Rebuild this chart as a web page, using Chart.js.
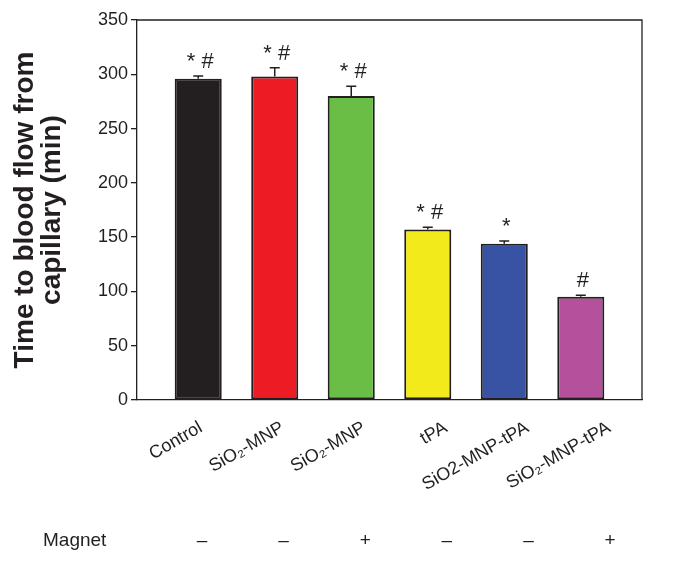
<!DOCTYPE html>
<html>
<head>
<meta charset="utf-8">
<script src="https://cdn.jsdelivr.net/npm/chart.js@4.4.1/dist/chart.umd.min.js"></script>
<style>
  html, body { margin: 0; padding: 0; background: #fff; }
  #wrap { width: 682px; height: 563px; position: relative; }
</style>
</head>
<body>
<div id="wrap"><canvas id="bloodFlowChart"></canvas></div>
<script>
const groups = ['Control', 'SiO₂-MNP', 'SiO₂-MNP', 'tPA', 'SiO2-MNP-tPA', 'SiO₂-MNP-tPA'];
const meanTime = [296, 298, 280, 157, 144, 95];
const errTime = [2.5, 8, 9, 2, 2.5, 1.5];
const sigMarks = ['* #', '* #', '* #', '* #', '*', '#'];
const magnet = ['–', '–', '+', '–', '–', '+'];
const barColors = ['#231f20', '#ed1c24', '#6abd45', '#f3ea1c', '#3853a4', '#b5509d'];
const yTicks = [0, 50, 100, 150, 200, 250, 300, 350];

const ink = '#231f20';
const fontFamily = '"Liberation Sans", Arial, Helvetica, sans-serif';

// group labels in the figure are spaced a little wider than the bars
const labelStart = 0.036;
const labelStep = 1.0667;
const labelPos = i => labelStart + i * labelStep;

// error bars (upper only) + significance marks
const errorBars = {
    id: 'errorBars',
    afterDatasetsDraw(chart) {
        const ctx = chart.ctx;
        const y = chart.scales.y;
        const meta = chart.getDatasetMeta(0);
        ctx.save();
        ctx.strokeStyle = ink;
        ctx.fillStyle = ink;
        ctx.lineWidth = 1.5;
        meta.data.forEach((bar, i) => {
            const top = y.getPixelForValue(meanTime[i]);
            const cap = y.getPixelForValue(meanTime[i] + errTime[i]);
            ctx.beginPath();
            ctx.moveTo(bar.x, top);
            ctx.lineTo(bar.x, cap);
            ctx.moveTo(bar.x - 5, cap);
            ctx.lineTo(bar.x + 5, cap);
            ctx.stroke();

            ctx.font = '22px ' + fontFamily;
            ctx.textAlign = 'center';
            ctx.textBaseline = 'alphabetic';
            ctx.fillText(sigMarks[i], bar.x + 2, cap - 8);
        });
        ctx.restore();
    }
};

// closes the box (top + right) and writes the Magnet row
const frameAndMagnet = {
    id: 'frameAndMagnet',
    afterDraw(chart) {
        const ctx = chart.ctx;
        const a = chart.chartArea;
        const x = chart.scales.x;
        ctx.save();
        ctx.strokeStyle = ink;
        ctx.lineWidth = 1.3;
        ctx.beginPath();
        ctx.moveTo(a.left, a.top);
        ctx.lineTo(a.right, a.top);
        ctx.lineTo(a.right, a.bottom);
        ctx.stroke();

        ctx.fillStyle = ink;
        ctx.font = '19px ' + fontFamily;
        ctx.textBaseline = 'middle';
        ctx.textAlign = 'left';
        ctx.fillText('Magnet', 43, 541);
        ctx.textAlign = 'center';
        magnet.forEach((m, i) => ctx.fillText(m, x.getPixelForValue(labelPos(i)) + 1, 541));
        ctx.restore();
    }
};

const chart = new Chart(document.getElementById('bloodFlowChart'), {
    type: 'bar',
    data: {
        datasets: [{
            data: meanTime.map((v, i) => ({ x: i, y: v })),
            backgroundColor: barColors,
            borderColor: ink,
            borderWidth: 2,
            borderSkipped: false,
            categoryPercentage: 1,
            barPercentage: 0.615
        }]
    },
    options: {
        responsive: true,
        maintainAspectRatio: false,
        animation: false,
        layout: { padding: { top: 20, right: 40, left: 0, bottom: 0 } },
        plugins: {
            legend: { display: false },
            tooltip: { enabled: false }
        },
        scales: {
            x: {
                type: 'linear',
                min: -0.8,
                max: 5.8,
                offset: false,
                afterBuildTicks: axis => {
                    axis.ticks = groups.map((_, i) => ({ value: labelPos(i), label: groups[i] }));
                },
                afterFit: axis => { axis.height = 163; },
                grid: { display: false },
                border: { display: true, color: ink, width: 1.3 },
                ticks: {
                    color: ink,
                    font: { family: fontFamily, size: 18 },
                    minRotation: 30,
                    maxRotation: 30,
                    padding: 9,
                    autoSkip: false,
                    callback: (v, i) => groups[i]
                }
            },
            y: {
                min: 0,
                max: 350,
                afterBuildTicks: axis => {
                    axis.ticks = yTicks.map(v => ({ value: v }));
                },
                afterFit: axis => { axis.width = 137; },
                grid: {
                    drawOnChartArea: false,
                    drawTicks: true,
                    tickLength: 6,
                    color: ink,
                    lineWidth: 1.3
                },
                border: { display: true, color: ink, width: 1.3 },
                ticks: {
                    color: ink,
                    font: { family: fontFamily, size: 18 },
                    padding: 3
                },
                title: {
                    display: true,
                    text: ['Time to blood flow from', 'capillary (min)'],
                    color: ink,
                    font: { family: fontFamily, size: 28, weight: 'bold', lineHeight: 0.97 },
                    padding: { top: 11.5, bottom: 0 }
                }
            }
        }
    },
    plugins: [errorBars, frameAndMagnet]
});
</script>
</body>
</html>
